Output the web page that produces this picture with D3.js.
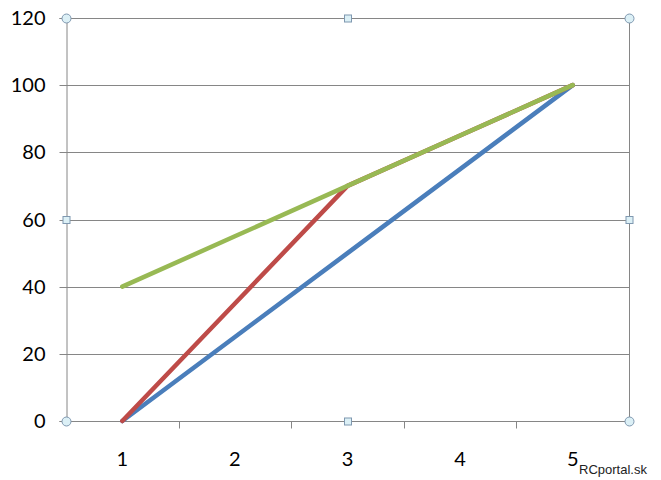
<!DOCTYPE html>
<html><head><meta charset="utf-8">
<script src="https://cdn.jsdelivr.net/npm/d3@7"></script>
<style>html,body{margin:0;padding:0;background:#fff;}</style>
</head><body>
<script>
const categories = [1, 2, 3, 4, 5];
const series1 = [0, 25, 50, 75, 100];
const series2 = [0, 35, 70, 85, 100];
const series3 = [40, 55, 70, 85, 100];
const yTicks = [0, 20, 40, 60, 80, 100, 120];
const colors = ["#4a7ebb", "#be4b48", "#98b954"];

const W = 661, H = 480;
const m = {left: 66, top: 18, right: 32, bottom: 59};
const svg = d3.select("body").append("svg").attr("width", W).attr("height", H);
const pw = W - m.left - m.right, ph = H - m.top - m.bottom;
const g = svg.append("g").attr("transform", `translate(${m.left},${m.top})`);

const x = d3.scaleBand().domain(categories).range([0, pw]);
const y = d3.scaleLinear().domain([0, 120]).range([ph, 0]);
const axisCol = "#868686";

// gridlines
g.selectAll(".grid").data(yTicks.filter(d => d > 0)).enter().append("line")
  .attr("x1", 0).attr("x2", pw).attr("y1", d => Math.round(y(d)) + 0.5).attr("y2", d => Math.round(y(d)) + 0.5)
  .attr("stroke", axisCol).attr("stroke-width", 1);
// right border
g.append("line").attr("x1", pw + 0.5).attr("x2", pw + 0.5).attr("y1", 0).attr("y2", ph).attr("stroke", axisCol);

// y axis
const yAxis = d3.axisLeft(y).tickValues(yTicks).tickSize(7).tickPadding(14);
const ya = g.append("g").attr("transform", "translate(0.5,0)").call(yAxis);
ya.select(".domain").attr("stroke", axisCol);
ya.selectAll(".tick line").attr("stroke", axisCol);
ya.selectAll("text").attr("font-family", "Lato, 'Liberation Sans', sans-serif").attr("font-size", 20).attr("fill", "#000");
ya.selectAll(".tick").attr("transform", d => `translate(0,${Math.round(y(d)) + 0.5})`);

// x axis
const xa = g.append("g").attr("transform", `translate(0,${ph + 0.5})`);
xa.append("line").attr("x1", 0).attr("x2", pw).attr("stroke", axisCol);
const bounds = categories.slice(1).map(c => x(c));
xa.selectAll(".xt").data(bounds).enter().append("line")
  .attr("x1", d => Math.round(d) + 0.5).attr("x2", d => Math.round(d) + 0.5).attr("y1", 0).attr("y2", 7)
  .attr("stroke", axisCol);
xa.selectAll(".xl").data(categories).enter().append("text")
  .attr("x", d => x(d) + x.bandwidth() / 2).attr("y", 44)
  .attr("text-anchor", "middle").attr("font-family", "Lato, 'Liberation Sans', sans-serif").attr("font-size", 20)
  .text(d => d);

// lines
const line = d3.line().x((d, i) => x(categories[i]) + x.bandwidth() / 2).y(d => y(d));
[series1, series2, series3].forEach((s, i) => {
  g.append("path").datum(s).attr("d", line).attr("fill", "none")
    .attr("stroke", colors[i]).attr("stroke-width", 4.5).attr("stroke-linecap", "round").attr("stroke-linejoin", "round");
});

// selection handles
const hs = [
  [0, 0, "c"], [pw / 2, 0, "s"], [pw, 0, "c"],
  [0, ph / 2, "s"], [pw, ph / 2, "s"],
  [0, ph, "c"], [pw / 2, ph, "s"], [pw, ph, "c"]
];
hs.forEach(([hx, hy, t]) => {
  if (t === "c") {
    g.append("circle").attr("cx", hx + 0.5).attr("cy", hy + 0.5).attr("r", 4.5)
      .attr("fill", "#dcf0f6").attr("stroke", "#7f98b0").attr("stroke-width", 1);
  } else {
    g.append("rect").attr("x", hx - 3).attr("y", hy - 3).attr("width", 7).attr("height", 7)
      .attr("fill", "#dcf0f6").attr("stroke", "#7f98b0").attr("stroke-width", 1);
  }
});

// watermark
svg.append("text").attr("x", 579).attr("y", 474).attr("font-family", "'Liberation Sans', Arial, sans-serif")
  .attr("font-size", 13).attr("fill", "#222").text("RCportal.sk");
</script>
</body></html>
